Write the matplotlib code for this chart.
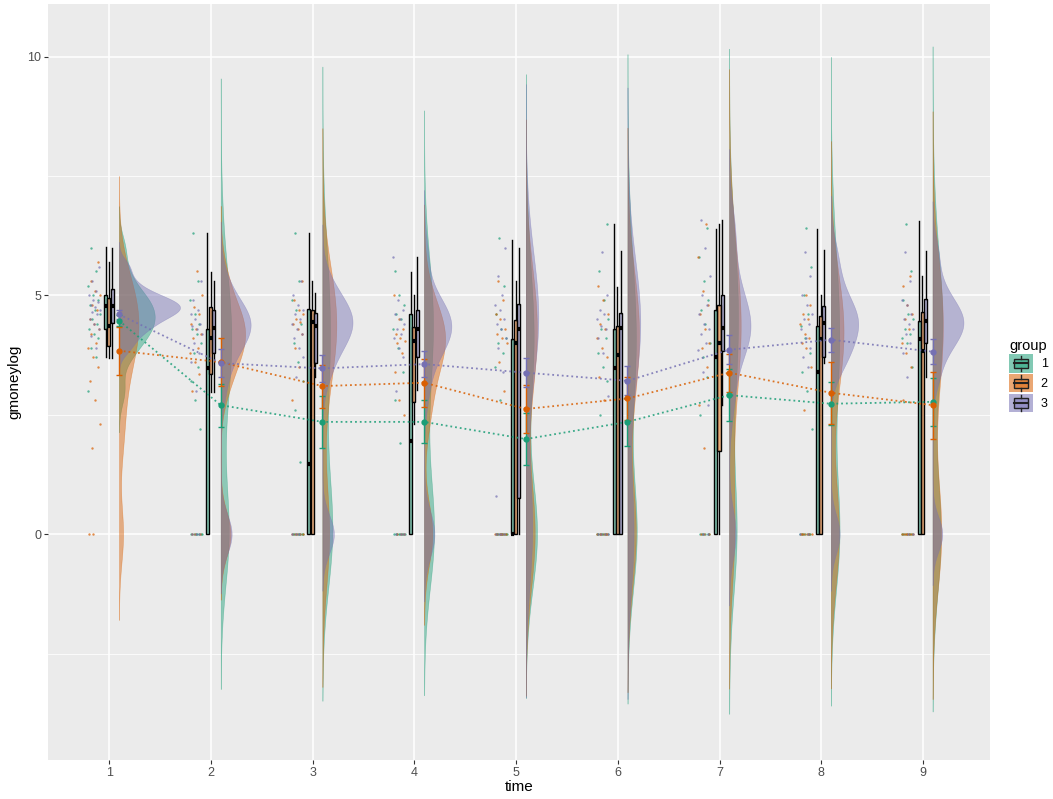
import numpy as np
import matplotlib
matplotlib.use("Agg")
import matplotlib.pyplot as plt
from matplotlib.patches import Patch, Rectangle
from matplotlib.lines import Line2D
from matplotlib.legend_handler import HandlerBase

plt.rcParams['font.family'] = ['Liberation Sans', 'DejaVu Sans']

times = [1, 2, 3, 4, 5, 6, 7, 8, 9]
groups = ['1', '2', '3']
colors = ['#1B9E77', '#D95F02', '#7570B3']

# raw values (non-zero part) and number of zeros, per time
g1_values = [
    [3.0, 3.7, 3.9, 4.1, 4.2, 4.3, 4.4, 4.5, 4.6, 4.7, 4.8, 4.9, 5.0, 5.2, 5.5, 6.0],
    [2.2, 2.8, 3.2, 3.5, 3.8, 4.0, 4.2, 4.3, 4.4, 4.6, 4.9, 5.3, 6.3],
    [1.5, 2.6, 3.2, 3.6, 4.0, 4.4, 4.7, 4.9, 5.3, 6.3],
    [1.9, 2.8, 3.4, 3.9, 4.3, 4.5, 4.6, 4.8, 5.0, 5.5],
    [2.8, 3.5, 3.8, 4.0, 4.1, 4.3, 4.6, 5.2, 6.2],
    [2.5, 3.2, 3.5, 3.8, 4.1, 4.3, 4.5, 4.9, 5.5, 6.5],
    [2.5, 3.3, 3.7, 4.0, 4.4, 4.7, 4.9, 5.3, 5.8, 6.4],
    [2.2, 3.0, 3.4, 3.8, 4.1, 4.35, 4.6, 5.0, 5.6, 6.4],
    [3.5, 4.0, 4.1, 4.2, 4.3, 4.5, 4.6, 4.9, 5.5, 6.5],
]
g1_zeros = [0, 7, 8, 8, 10, 8, 6, 7, 7]

g2_values = [
    [1.8, 2.3, 2.8, 3.2, 3.5, 3.7, 3.9, 4.0, 4.2, 4.3, 4.4, 4.5, 4.7, 4.8, 5.0, 5.1,
     5.3, 5.7],
    [3.0, 3.35, 3.6, 3.8, 3.9, 4.1, 4.2, 4.3, 4.4, 4.6, 4.75, 5.0, 5.5],
    [2.8, 3.5, 3.9, 4.2, 4.3, 4.4, 4.45, 4.5, 4.6, 4.7, 4.9, 5.3],
    [2.5, 2.8, 3.4, 3.8, 4.0, 4.05, 4.1, 4.2, 4.3, 4.5, 5.0],
    [3.0, 3.6, 4.0, 4.1, 4.2, 4.3, 4.5, 4.6, 4.9, 5.3],
    [2.8, 3.3, 3.7, 3.9, 4.1, 4.3, 4.4, 4.6, 4.9, 5.2],
    [1.8, 2.7, 3.5, 3.9, 4.0, 4.3, 4.6, 4.8, 5.1, 5.8, 6.5],
    [2.6, 3.5, 3.9, 4.0, 4.1, 4.2, 4.4, 4.5, 4.6, 4.8, 5.0],
    [2.8, 3.5, 3.8, 4.0, 4.3, 4.5, 4.6, 4.8, 5.2, 5.4],
]
g2_zeros = [2, 3, 5, 3, 7, 6, 3, 6, 7]

g3_values = [
    [3.9, 4.15, 4.3, 4.4, 4.5, 4.6, 4.65, 4.7, 4.75, 4.8, 4.85, 4.9, 5.0, 5.1, 5.3, 5.6],
    [3.0, 3.6, 3.8, 4.0, 4.2, 4.3, 4.35, 4.4, 4.5, 4.6, 4.7, 4.9, 5.3],
    [3.3, 3.7, 3.9, 4.1, 4.2, 4.3, 4.4, 4.5, 4.6, 4.7, 4.8, 5.0, 5.3],
    [3.0, 3.7, 3.9, 4.1, 4.2, 4.3, 4.4, 4.5, 4.6, 4.7, 4.9, 5.8],
    [0.8, 3.4, 3.9, 4.1, 4.3, 4.4, 4.5, 4.7, 4.8, 5.0, 5.4, 6.0],
    [2.9, 3.8, 4.1, 4.3, 4.35, 4.5, 4.6, 4.7, 5.0, 5.9],
    [2.7, 3.4, 3.85, 4.0, 4.2, 4.3, 4.4, 4.6, 4.8, 5.0, 5.4, 6.0, 6.57],
    [3.5, 3.7, 3.9, 4.1, 4.3, 4.4, 4.5, 4.6, 4.8, 5.0, 5.4, 5.9],
    [3.3, 3.8, 4.0, 4.2, 4.3, 4.4, 4.5, 4.6, 4.8, 4.9, 5.3, 5.9],
]
g3_zeros = [0, 3, 3, 3, 4, 4, 2, 2, 2]

# boxplot summaries
g1_box = dict(
    whislo=[3.7, 0, 0, 0, 0, 0, 0, 0, 0],
    q1=[4.29, 0, 0, 0, 0, 0, 0, 0, 0],
    med=[4.77, 3.48, 1.47, 1.95, 0, 3.47, 3.7, 3.39, 4.08],
    q3=[5.0, 4.3, 4.71, 4.6, 4.08, 4.29, 4.7, 4.35, 4.47],
    whishi=[6.02, 6.3, 6.3, 5.49, 6.15, 6.49, 6.39, 6.39, 6.56],
)
g2_box = dict(
    whislo=[3.68, 2.98, 0, 2.3, 0, 0, 0, 0, 0],
    q1=[3.94, 3.35, 0, 2.77, 0, 0, 1.75, 0, 0],
    med=[4.35, 4.1, 4.45, 4.05, 4.0, 3.74, 4.0, 4.08, 3.84],
    q3=[4.95, 4.75, 4.7, 4.33, 4.49, 4.35, 4.79, 4.56, 4.66],
    whishi=[5.7, 5.48, 5.3, 5.0, 5.29, 5.17, 6.5, 5.0, 5.4],
)
g3_box = dict(
    whislo=[3.69, 2.98, 3.3, 3.02, 0, 0, 2.7, 3.59, 3.28],
    q1=[4.43, 3.79, 3.58, 3.7, 0.75, 0, 3.84, 3.7, 4.0],
    med=[4.77, 4.31, 4.35, 4.3, 4.3, 4.31, 4.31, 4.42, 4.47],
    q3=[5.13, 4.7, 4.63, 4.7, 4.81, 4.64, 5.0, 4.77, 4.92],
    whishi=[6.0, 5.29, 5.04, 5.8, 6.0, 5.92, 6.57, 5.94, 5.92],
)

# group means and confidence half-widths
g1_mean = [4.47, 2.70, 2.35, 2.35, 1.99, 2.35, 2.91, 2.73, 2.77]
g2_mean = [3.84, 3.60, 3.10, 3.17, 2.62, 2.84, 3.38, 2.96, 2.70]
g3_mean = [4.60, 3.58, 3.47, 3.56, 3.38, 3.21, 3.86, 4.07, 3.82]
g1_ci = [0.12, 0.45, 0.55, 0.45, 0.55, 0.5, 0.55, 0.45, 0.5]
g2_ci = [0.5, 0.5, 0.45, 0.5, 0.5, 0.45, 0.4, 0.65, 0.7]
g3_ci = [0.1, 0.3, 0.28, 0.28, 0.3, 0.3, 0.3, 0.25, 0.26]

all_values = [g1_values, g2_values, g3_values]
all_zeros = [g1_zeros, g2_zeros, g3_zeros]
all_box = [g1_box, g2_box, g3_box]
all_mean = [g1_mean, g2_mean, g3_mean]
all_ci = [g1_ci, g2_ci, g3_ci]


def kde(v):
    # gaussian density with R's nrd0 bandwidth, cut = 3
    v = np.asarray(v, dtype=float)
    n = len(v)
    sd = v.std(ddof=1)
    q75, q25 = np.percentile(v, [75, 25])
    h = 0.9 * min(sd, (q75 - q25) / 1.34) * n ** -0.2
    grid = np.linspace(v.min() - 3 * h, v.max() + 3 * h, 300)
    d = np.exp(-0.5 * ((grid[:, None] - v[None, :]) / h) ** 2).sum(1)
    return grid, d / (n * h * np.sqrt(2 * np.pi))


fig = plt.figure(figsize=(10.53, 7.99), dpi=100)
ax = fig.add_axes([0.0456, 0.0488, 0.9402 - 0.0456, 0.9944 - 0.0488])
ax.set_facecolor('#EBEBEB')

# half violins
dens = {}
for g in range(3):
    for i, t in enumerate(times):
        data = all_values[g][i] + [0.0] * all_zeros[g][i]
        dens[g, i] = kde(data)
dmax = max(d.max() for _, d in dens.values())
vscale = 0.6 / dmax
for g in range(3):
    for i, t in enumerate(times):
        grid, d = dens[g, i]
        base = t + 0.095
        ax.fill_betweenx(grid, base, base + d * vscale, facecolor=colors[g],
                         edgecolor=colors[g], alpha=0.45, lw=0.4, zorder=1)

# jittered raw points
for g in range(3):
    for i, t in enumerate(times):
        data = all_values[g][i] + [0.0] * all_zeros[g][i]
        k = np.arange(len(data))
        xs = t - 0.15 + 0.12 * (((k + g * 7 + i * 3) * 0.618034) % 1 - 0.5)
        ax.scatter(xs, data, s=3, color=colors[g], alpha=0.7, lw=0, zorder=2)

# boxplots
box_off = [-0.037, -0.005, 0.027]
for g in range(3):
    b = all_box[g]
    stats = []
    for i in range(len(times)):
        stats.append(dict(whislo=b['whislo'][i], q1=b['q1'][i], med=b['med'][i],
                          q3=b['q3'][i], whishi=b['whishi'][i], fliers=[]))
    ax.bxp(stats, positions=[t + box_off[g] for t in times], widths=0.03,
           patch_artist=True, showcaps=False, showfliers=False, manage_ticks=False,
           boxprops=dict(facecolor=colors[g] + '80', edgecolor='black', lw=1),
           whiskerprops=dict(color='black', lw=1),
           medianprops=dict(color='black', lw=3, solid_capstyle='butt'),
           zorder=3)

# means, intervals and connecting dotted lines
for g in range(3):
    xm = [t + 0.095 for t in times]
    ax.plot(xm, all_mean[g], ':', color=colors[g], lw=1.3, alpha=0.85, zorder=4)
    ax.errorbar(xm, all_mean[g], yerr=all_ci[g], fmt='o', ms=3.5, color=colors[g],
                ecolor=colors[g], elinewidth=1, capsize=2.5, capthick=1, zorder=5)

ax.set_xlim(0.397, 9.66)
ax.set_ylim(-4.73, 11.09)
ax.set_xticks(times)
ax.set_xticklabels([str(t) for t in times])
ax.set_yticks([0, 5, 10])
ax.set_yticks([-2.5, 2.5, 7.5], minor=True)
ax.grid(which='major', color='white', lw=1.1)
ax.grid(which='minor', color='white', lw=0.55)
ax.set_axisbelow(True)
for s in ax.spines.values():
    s.set_visible(False)
ax.tick_params(which='major', length=3, color='#333333', labelcolor='#4D4D4D',
               labelsize=9, pad=2)
ax.tick_params(which='minor', length=0)
ax.set_xlabel('time', fontsize=11, labelpad=1)
ax.set_ylabel('gmoneylog', fontsize=11, labelpad=4)


class BoxKey(HandlerBase):
    def create_artists(self, legend, orig_handle, xdescent, ydescent,
                       width, height, fontsize, trans):
        c = orig_handle.get_facecolor()
        x0, y0 = -xdescent, -ydescent
        bg = Rectangle((x0, y0), width, height, facecolor=c[:3] + (0.55,),
                       edgecolor='none', transform=trans)
        bx = Rectangle((x0 + 0.2 * width, y0 + 0.25 * height), 0.6 * width,
                       0.5 * height, facecolor=c[:3] + (0.5,), edgecolor='#222222',
                       lw=1, transform=trans)
        w1 = Line2D([x0 + 0.5 * width] * 2, [y0 + 0.08 * height, y0 + 0.25 * height],
                    color='#222222', lw=1, transform=trans)
        w2 = Line2D([x0 + 0.5 * width] * 2, [y0 + 0.75 * height, y0 + 0.92 * height],
                    color='#222222', lw=1, transform=trans)
        md = Line2D([x0 + 0.2 * width, x0 + 0.8 * width], [y0 + 0.5 * height] * 2,
                    color='#222222', lw=1.5, transform=trans)
        return [bg, bx, w1, w2, md]


handles = [Patch(facecolor=c) for c in colors]
fig.legend(handles, groups, handler_map={Patch: BoxKey()}, title='group',
           loc='center left', bbox_to_anchor=(0.948, 0.53), frameon=False,
           fontsize=9, title_fontsize=10.5, handlelength=1.9, handleheight=1.9,
           labelspacing=0.1, handletextpad=0.6, alignment='left')

fig.savefig('out.png', dpi=100, facecolor='white')
